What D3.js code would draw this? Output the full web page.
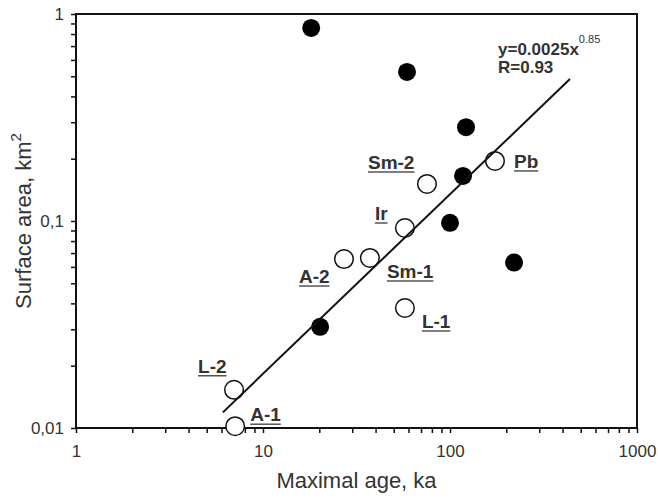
<!DOCTYPE html>
<html>
<head>
<meta charset="utf-8">
<script src="https://cdn.jsdelivr.net/npm/d3@7"></script>
<style>
  body { margin: 0; background: #fff; }
  svg { display: block; font-family: "Liberation Sans", Arial, sans-serif; }
</style>
</head>
<body>
<div class="content"></div>
<script>
///////////////////////////////////////////////////////////////////
//DATA/////////////////////////////////////////////////////////////
var filledAge  = [18.1, 58.9, 121.8, 117.4, 100, 220, 20.2];
var filledArea = [0.856, 0.525, 0.284, 0.165, 0.098, 0.063, 0.0308];

var openNames = ["Pb", "Sm-2", "Ir", "A-2", "Sm-1", "L-1", "L-2", "A-1"];
var openAge   = [174, 75.3, 57.4, 27.1, 37.3, 57.4, 7.0, 7.1];
var openArea  = [0.195, 0.151, 0.0925, 0.0655, 0.0663, 0.038, 0.0153, 0.0102];

// regression line end points
var fitAge  = [6.1, 438];
var fitArea = [0.0119, 0.485];

var xTicks = [1, 10, 100, 1000];
var yTicks = [0.01, 0.1, 1];
var yTickLabels = ["0,01", "0,1", "1"];

// where each label sits relative to its circle
var labelOffsets = {
  "Pb": [19, 7], "Sm-2": [-59, -15], "Ir": [-30, -8], "A-2": [-45, 24],
  "Sm-1": [17, 20], "L-1": [17, 20], "L-2": [-36, -17], "A-1": [15, -5]
};

///////////////////////////////////////////////////////////////////
//SETUP////////////////////////////////////////////////////////////
var width = 658, height = 498;
var leftPad = 76, rightPad = 21, topPad = 14, bottomPad = 70;

var svg = d3.select(".content").append("svg")
  .attr("width", width).attr("height", height);

var x = d3.scaleLog().domain([1, 1000]).range([leftPad, width - rightPad]);
var y = d3.scaleLog().domain([0.01, 1]).range([height - bottomPad, topPad]);

// minor ticks: 1..9 per decade
function logTicks(lo, hi){
  var out = [];
  for (var d = lo; d < hi * 0.999; d *= 10){
    for (var k = 1; k < 10; k++) out.push(d * k);
  }
  out.push(hi);
  return out;
}

//AXES/////////////////////////////////////////////////////////////
var xAxis = d3.axisBottom(x).tickValues(logTicks(1, 1000)).tickSize(5).tickPadding(12)
  .tickFormat(function(d){ return xTicks.indexOf(Math.round(d)) >= 0 ? String(Math.round(d)) : ""; });

var yAxis = d3.axisLeft(y).tickValues(logTicks(0.01, 1)).tickSize(5).tickPadding(7)
  .tickFormat(function(d){
    for (var i = 0; i < yTicks.length; i++){
      if (Math.abs(d - yTicks[i]) < 1e-9) return yTickLabels[i];
    }
    return "";
  });

svg.append("g").attr("transform", "translate(0," + (height - bottomPad) + ")").call(xAxis);
svg.append("g").attr("transform", "translate(" + leftPad + ",0)").call(yAxis);

svg.selectAll(".domain").remove();
svg.selectAll(".tick line").attr("stroke", "#111").attr("stroke-width", 1.5);
svg.selectAll(".tick text").attr("fill", "#333").style("font-size", "17px")
  .style("font-family", "'Liberation Sans', Arial, sans-serif");

// frame
svg.append("rect")
  .attr("x", leftPad).attr("y", topPad)
  .attr("width", width - rightPad - leftPad).attr("height", height - bottomPad - topPad)
  .attr("fill", "none").attr("stroke", "#111").attr("stroke-width", 2);

// axis titles
svg.append("text").attr("x", (leftPad + width - rightPad) / 2).attr("y", 488)
  .attr("text-anchor", "middle").attr("fill", "#333").style("font-size", "22px")
  .text("Maximal age, ka");

var yTitle = svg.append("text")
  .attr("transform", "translate(31," + ((topPad + height - bottomPad) / 2) + ") rotate(-90)")
  .attr("text-anchor", "middle").attr("fill", "#333").style("font-size", "22px");
yTitle.append("tspan").text("Surface area, km");
yTitle.append("tspan").attr("dy", -10).style("font-size", "15px").text("2");

///////////////////////////////////////////////////////////////////
//MARKS////////////////////////////////////////////////////////////
svg.append("g").selectAll("circle").data(filledAge)
  .enter().append("circle")
  .attr("cx", function(d){ return x(d); })
  .attr("cy", function(d, i){ return y(filledArea[i]); })
  .attr("r", 9).attr("fill", "#000");

svg.append("g").selectAll("circle").data(openAge)
  .enter().append("circle")
  .attr("cx", function(d){ return x(d); })
  .attr("cy", function(d, i){ return y(openArea[i]); })
  .attr("r", 9.3).attr("fill", "#fff").attr("stroke", "#111").attr("stroke-width", 1.5);

svg.append("line")
  .attr("x1", x(fitAge[0])).attr("y1", y(fitArea[0]))
  .attr("x2", x(fitAge[1])).attr("y2", y(fitArea[1]))
  .attr("stroke", "#111").attr("stroke-width", 2);

// labels, underlined
var labels = svg.append("g");
openNames.forEach(function(name, i){
  var off = labelOffsets[name];
  var lx = x(openAge[i]) + off[0], ly = y(openArea[i]) + off[1];
  var t = labels.append("text").attr("x", lx).attr("y", ly)
    .attr("fill", "#333").style("font-size", "19px").style("font-weight", "bold")
    .text(name);
  var w = t.node().getComputedTextLength();
  labels.append("line").attr("x1", lx).attr("x2", lx + w)
    .attr("y1", ly + 3).attr("y2", ly + 3)
    .attr("stroke", "#555").attr("stroke-width", 1.5);
});

// equation
var eq = svg.append("text").attr("x", 498).attr("y", 55)
  .attr("fill", "#333").style("font-size", "17px").style("font-weight", "bold");
eq.append("tspan").text("y=0.0025x");
eq.append("tspan").attr("dy", -12).style("font-size", "11px").style("font-weight", "normal").text("0.85");
svg.append("text").attr("x", 498).attr("y", 73)
  .attr("fill", "#333").style("font-size", "17px").style("font-weight", "bold")
  .text("R=0.93");
</script>
</body>
</html>
